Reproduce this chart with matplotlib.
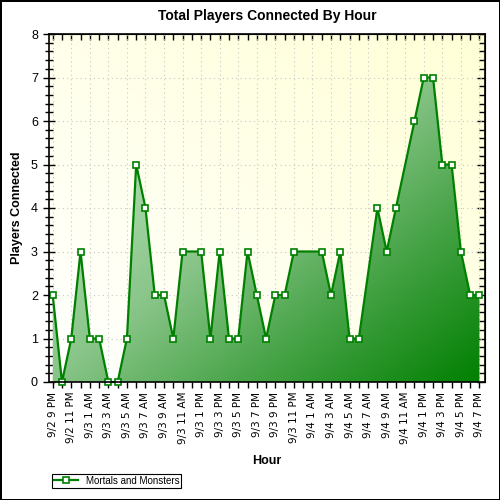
import numpy as np
import matplotlib
matplotlib.use("Agg")
import matplotlib.pyplot as plt
from matplotlib.colors import LinearSegmentedColormap
from matplotlib.ticker import MultipleLocator

# hours counted from 9/2 9 PM, only hours that have a reading
hours = [0, 1, 2, 3, 4, 5, 6, 7, 8, 9, 10, 11, 12, 13, 14, 16, 17, 18, 19, 20, 21,
         22, 23, 24, 25, 26, 29, 30, 31, 32, 33, 35, 36, 37, 39, 40, 41, 42, 43, 44, 45, 46]
players = [2, 0, 1, 3, 1, 1, 0, 0, 1, 5, 4, 2, 2, 1, 3, 3, 1, 3, 1, 1, 3,
           2, 1, 2, 2, 3, 3, 2, 3, 1, 1, 4, 3, 4, 6, 7, 7, 5, 5, 3, 2, 2]
tick_labels = ["9/2 9 PM", "9/2 11 PM", "9/3 1 AM", "9/3 3 AM", "9/3 5 AM", "9/3 7 AM",
               "9/3 9 AM", "9/3 11 AM", "9/3 1 PM", "9/3 3 PM", "9/3 5 PM", "9/3 7 PM",
               "9/3 9 PM", "9/3 11 PM", "9/4 1 AM", "9/4 3 AM", "9/4 5 AM", "9/4 7 AM",
               "9/4 9 AM", "9/4 11 AM", "9/4 1 PM", "9/4 3 PM", "9/4 5 PM", "9/4 7 PM"]

plt.rcParams['font.family'] = ['Liberation Sans', 'DejaVu Sans']

fig = plt.figure(figsize=(5, 5), dpi=100)
fig.patch.set_edgecolor("black")
fig.patch.set_linewidth(2)
ax = fig.add_axes([0.098, 0.236, 0.872, 0.696])

x0, x1 = -0.4, 46.6
ax.set_xlim(x0, x1)
ax.set_ylim(0, 8)

# background gradient (white bottom-left -> pale yellow top-right)
gx, gy = np.meshgrid(np.linspace(0, 1, 200), np.linspace(0, 1, 200))
bg_t = (gx + gy) / 2
bg_cmap = LinearSegmentedColormap.from_list("bg", ["#ffffff", "#ffffd6"])
ax.imshow(bg_t, cmap=bg_cmap, origin="lower", extent=[x0, x1, 0, 8],
          aspect="auto", zorder=0, vmin=0, vmax=1)

# grid
for v in range(1, 8):
    ax.axhline(v, color="#c8c8c8", lw=0.8, ls=(0, (1, 3)), zorder=1)
for h in range(0, 47, 2):
    ax.axvline(h, color="#c8c8c8", lw=0.8, ls=(0, (1, 3)), zorder=1)

# gradient fill under the line
fill = ax.fill_between(hours, players, 0, color="none", zorder=2)
fill_t = (gx + (1 - gy)) / 2
fill_cmap = LinearSegmentedColormap.from_list(
    "fill", [(0, "#d8f0d8"), (0.3, "#a8d8a8"), (0.5, "#88c488"),
             (0.75, "#40a040"), (1, "#007f00")])
im = ax.imshow(fill_t, cmap=fill_cmap, origin="lower", extent=[x0, x1, 0, 8],
               aspect="auto", zorder=2, vmin=0, vmax=1)
path = fill.get_paths()[0]
im.set_clip_path(path, transform=ax.transData)

ax.plot(hours, players, color="#008000", lw=1.6, marker="s", markersize=5,
        markerfacecolor="white", markeredgecolor="#008000", markeredgewidth=1.2,
        label="Mortals and Monsters", zorder=4, clip_on=False)

# ticks
ax.set_xticks(range(0, 47, 2))
ax.set_xticklabels(tick_labels, rotation=90, fontsize=7.5, family="DejaVu Sans")
ax.xaxis.set_minor_locator(MultipleLocator(1))
ax.yaxis.set_major_locator(MultipleLocator(1))
ax.yaxis.set_minor_locator(MultipleLocator(0.2))
ax.tick_params(axis="x", which="both", direction="out", length=4, width=1, pad=3)
ax.tick_params(axis="y", which="major", direction="inout", length=9, width=1,
               labelsize=9)
ax.tick_params(axis="y", which="minor", direction="inout", length=6, width=1)

# inward ticks on the top and right edges
top = ax.secondary_xaxis("top")
top.set_xticks(range(0, 47, 2))
top.xaxis.set_minor_locator(MultipleLocator(1))
top.tick_params(which="both", direction="in", length=4, width=1, labeltop=False)
right = ax.secondary_yaxis("right")
right.yaxis.set_major_locator(MultipleLocator(1))
right.yaxis.set_minor_locator(MultipleLocator(0.2))
right.tick_params(which="major", direction="in", length=6, width=1, labelright=False)
right.tick_params(which="minor", direction="in", length=4, width=1)

for sp in ax.spines.values():
    sp.set_linewidth(1.2)
    sp.set_zorder(5)

ax.set_title("Total Players Connected By Hour", fontsize=10, fontweight="bold", pad=10)
ax.set_xlabel("Hour", fontsize=9, fontweight="bold", labelpad=8)
ax.set_ylabel("Players Connected", fontsize=9, fontweight="bold", labelpad=6)

leg = fig.legend(loc="lower left", bbox_to_anchor=(0.094, 0.015), fontsize=7,
                 frameon=True, fancybox=False, edgecolor="black", borderpad=0.2,
                 handlelength=2.5, framealpha=1)
leg.get_frame().set_linewidth(0.8)

fig.savefig("out.png", dpi=100)
